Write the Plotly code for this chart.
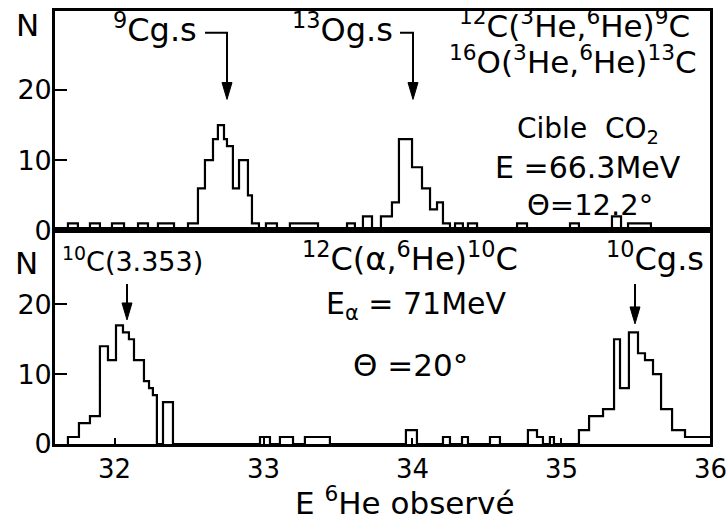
import plotly.graph_objects as go

# ---------------- data ----------------
# step histograms: level top_counts[i] holds from top_edges[i] to top_edges[i+1]
top_edges = [31.684, 31.751, 31.832, 31.899, 31.980, 32.061, 32.155, 32.222, 32.289, 32.397,
             32.491, 32.558, 32.605, 32.659, 32.692, 32.733, 32.753, 32.793, 32.834, 32.894,
             32.921, 32.968, 33.015, 33.089, 33.176, 33.365, 33.560, 33.613, 33.667, 33.728,
             33.788, 33.862, 33.909, 33.997, 34.064, 34.118, 34.165, 34.205, 34.252, 34.286,
             34.339, 34.373, 34.434, 34.703, 34.770, 35.059, 35.119, 35.341, 35.402, 35.449,
             35.603]
top_counts = [1, 0, 1, 0, 1, 0, 1, 0, 1, 0,
              1, 6, 10, 13, 15, 13, 12, 6, 10, 5,
              1, 0, 1, 0, 1, 0, 1, 0, 2, 0,
              2, 4, 13, 9, 6, 3, 4, 1, 0, 1,
              0, 1, 0, 1, 0, 1, 0, 2, 0, 1,
              0]

bot_edges = [31.684, 31.758, 31.832, 31.899, 31.953, 32.007, 32.054, 32.094, 32.128, 32.195,
             32.229, 32.255, 32.282, 32.323, 32.390, 32.975, 33.042, 33.109, 33.197, 33.277,
             33.445, 33.956, 34.030, 34.205, 34.252, 34.333, 34.373, 34.521, 34.588, 34.776,
             34.837, 34.877, 34.924, 34.951, 35.119, 35.187, 35.281, 35.355, 35.395, 35.455,
             35.516, 35.563, 35.617, 35.671, 35.745, 35.832, 36.0]
bot_counts = [1, 3, 4, 14, 12, 17, 16, 15, 12, 9,
              8, 7, 0, 6, 0, 1, 0, 1, 0, 1,
              0, 2, 0, 1, 0, 1, 0, 1, 0, 2,
              1, 0, 1, 0, 2, 4, 5, 15, 8, 16,
              13, 12, 10, 5, 2, 1, 1]

x_range = [31.597, 36.0]
top_yrange = [0, 31.24]
bot_yrange = [0, 30.58]
x_ticks = [32, 33, 34, 35, 36]
y_ticks = [0, 10, 20]

# ---------------- layout geometry ----------------
W, H = 727, 523
ML, MR, MT, MB = 55, 17, 8, 79
PW, PH = W - ML - MR, H - MT - MB
SPLIT_PX = 229  # pixel row of the shared frame line
split = (H - MB - SPLIT_PX) / PH

FONT = "DejaVu Sans"
INK = "black"


def px(x):
    return (x - ML) / PW


def py(y):
    return (H - MB - y) / PH


fig = go.Figure()
fig.add_trace(go.Scatter(x=[top_edges[0]] + top_edges, y=[0] + top_counts, mode="lines",
                         line=dict(shape="hv", color=INK, width=2.2),
                         xaxis="x", yaxis="y", hoverinfo="skip", showlegend=False))
fig.add_trace(go.Scatter(x=[bot_edges[0]] + bot_edges, y=[0] + bot_counts, mode="lines",
                         line=dict(shape="hv", color=INK, width=2.2),
                         xaxis="x2", yaxis="y2", hoverinfo="skip", showlegend=False))

frame = dict(showline=True, mirror=True, linecolor=INK, linewidth=2.6,
             showgrid=False, zeroline=False)
yt = dict(tickvals=y_ticks, ticks="inside", ticklen=12, tickwidth=2, tickcolor=INK,
          tickfont=dict(family=FONT, size=27, color=INK), ticklabelstandoff=-5)

fig.update_layout(
    width=W, height=H,
    margin=dict(l=ML, r=MR, t=MT, b=MB),
    paper_bgcolor="white", plot_bgcolor="white",
    showlegend=False,
    xaxis=dict(domain=[0, 1], range=x_range, anchor="y", showticklabels=False, ticks="",
               **frame),
    yaxis=dict(domain=[split, 1], range=top_yrange, anchor="x", **yt, **frame),
    xaxis2=dict(domain=[0, 1], range=x_range, anchor="y2", tickvals=x_ticks,
                ticks="inside", ticklen=6, tickwidth=2, tickcolor=INK,
                showticklabels=False, **frame),
    yaxis2=dict(domain=[0, split], range=bot_yrange, anchor="x2", **yt, **frame),
)

# x tick labels placed under the bottom frame
for v in x_ticks:
    fig.add_annotation(text=str(v), x=v, xref="x2", y=py(469), yref="paper",
                       xanchor="center", yanchor="middle", showarrow=False,
                       font=dict(family=FONT, size=26, color=INK))

ann = [
    # top panel
    ("N", 27, 22, 31),
    ("<sup>9</sup>Cg.s", 155, 25, 32),
    ("<sup>13</sup>Og.s", 342, 25, 32),
    ("<sup>12</sup>C(<sup>3</sup>He,<sup>6</sup>He)<sup>9</sup>C", 574, 21, 31),
    ("<sup>16</sup>O(<sup>3</sup>He,<sup>6</sup>He)<sup>13</sup>C", 573, 57, 31),
    ("Cible  CO<sub>2</sub>", 588, 128, 28),
    ("E =66.3MeV", 588, 166, 30),
    ("Θ=12.2°", 590, 203, 29),
    # bottom panel
    ("N", 26, 262, 31),
    ("<sup>10</sup>C(3.353)", 132, 258, 27),
    ("<sup>12</sup>C(α,<sup>6</sup>He)<sup>10</sup>C", 410, 256, 32),
    ("E<sub>α</sub> = 71MeV", 416, 305, 30),
    ("Θ =20°", 410, 364, 31),
    ("<sup>10</sup>Cg.s", 655, 256, 32),
    # axis title
    ("E <sup>6</sup>He observé", 405, 501, 31),
]
for text, x, y, size in ann:
    fig.add_annotation(text=text, x=px(x), y=py(y), xref="paper", yref="paper",
                       xanchor="center", yanchor="middle", showarrow=False,
                       font=dict(family=FONT, size=size, color=INK))

# arrows (pixel positions of the drawn pointers)
arrows = [
    [(205, 30), (227, 30), (227, 80)],
    [(400, 30), (413, 30), (413, 80)],
    [(127, 283), (127, 302)],
    [(635, 283), (635, 306)],
]
for pts in arrows:
    path = "M " + " L ".join(f"{px(a)} {py(b)}" for a, b in pts)
    fig.add_shape(type="path", path=path, xref="paper", yref="paper",
                  line=dict(color=INK, width=2))
    tx, ty = pts[-1]
    head = (f"M {px(tx - 5)} {py(ty)} L {px(tx + 5)} {py(ty)} "
            f"L {px(tx)} {py(ty + 17)} Z")
    fig.add_shape(type="path", path=head, xref="paper", yref="paper",
                  fillcolor=INK, line=dict(color=INK, width=1))

fig.write_html("out.html", config={"displayModeBar": False},
               post_script="document.body.style.margin='0px';")
